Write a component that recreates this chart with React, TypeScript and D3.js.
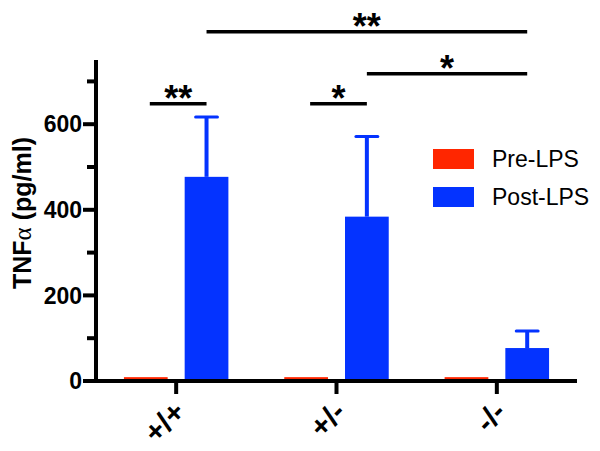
import React from "react";
import * as d3 from "d3";

const categories = ["+/+", "+/-", "-/-"];
const seriesNames = ["Pre-LPS", "Post-LPS"];
const seriesColors = ["#FF2600", "#0433FF"];
const preLPS = [9, 9, 9];
const postLPS = [477, 384, 77];
const postErrUpper = [617, 571, 117];
const majorTicks = [0, 200, 400, 600];
const minorTicks = [100, 300, 500, 700];

// significance brackets: [fromGroup, fromSeries, toGroup, toSeries, level, label]
const brackets: [number, number, number, number, number, string][] = [
  [0, 1, 2, 1, 816, "**"],
  [1, 1, 2, 1, 718, "*"],
  [0, 0, 0, 1, 648, "**"],
  [1, 0, 1, 1, 648, "*"],
];

const W = 600;
const H = 451;
const FONT = "'Liberation Sans', Arial, Helvetica, sans-serif";

export default function App() {
  const x0 = 96;
  const x1 = 577;
  const y0 = 381;

  const xBand = d3.scaleBand<string>().domain(categories).range([x0, x1]).padding(0);
  const xInner = d3
    .scaleBand<string>()
    .domain(seriesNames)
    .range([0, xBand.bandwidth()])
    .paddingInner(0.28)
    .paddingOuter(0.46);
  const y = d3.scaleLinear().domain([0, 750]).range([y0, 60]);

  const series = [preLPS, postLPS];
  const barCenter = (g: number, s: number) =>
    (xBand(categories[g]) as number) + (xInner(seriesNames[s]) as number) + xInner.bandwidth() / 2;

  return (
    <svg
      width={W}
      height={H}
      style={{ position: "absolute", left: 0, top: 0, background: "#fff" }}
      fontFamily={FONT}
    >
      {/* bars */}
      {series.map((vals, s) =>
        vals.map((v, g) => {
          const bx = (xBand(categories[g]) as number) + (xInner(seriesNames[s]) as number);
          return (
            <rect
              key={`b${s}-${g}`}
              x={bx}
              y={y(v)}
              width={xInner.bandwidth()}
              height={y(0) - y(v)}
              fill={seriesColors[s]}
            />
          );
        })
      )}
      {/* error bars */}
      {postLPS.map((v, g) => {
        const cx = barCenter(g, 1);
        const capW = xInner.bandwidth() / 2;
        return (
          <g key={`e${g}`} stroke={seriesColors[1]}>
            <line x1={cx} x2={cx} y1={y(v)} y2={y(postErrUpper[g])} strokeWidth={4} />
            <line
              x1={cx - capW / 2}
              x2={cx + capW / 2}
              y1={y(postErrUpper[g])}
              y2={y(postErrUpper[g])}
              strokeWidth={3}
              strokeLinecap="round"
            />
          </g>
        );
      })}
      {/* y axis */}
      <line x1={x0} x2={x0} y1={y(750)} y2={y0 + 2} stroke="#000" strokeWidth={4} />
      {majorTicks.map((t) => (
        <g key={`mt${t}`}>
          <line x1={x0 - 13} x2={x0} y1={y(t)} y2={y(t)} stroke="#000" strokeWidth={4} />
          <text
            x={x0 - 14}
            y={y(t)}
            dy="0.36em"
            textAnchor="end"
            fontSize={23}
            fontWeight="bold"
          >
            {t}
          </text>
        </g>
      ))}
      {minorTicks.map((t) => (
        <line key={`mi${t}`} x1={x0 - 9} x2={x0} y1={y(t)} y2={y(t)} stroke="#000" strokeWidth={4} />
      ))}
      {/* y label */}
      <text
        transform={`translate(31,213) rotate(-90)`}
        textAnchor="middle"
        fontSize={25}
        fontWeight="bold"
      >
        TNF
        <tspan fontFamily="'Liberation Serif', 'DejaVu Serif', serif" fontWeight="normal">
          α
        </tspan>{" "}
        (pg/ml)
      </text>
      {/* x axis */}
      <line x1={x0 - 2} x2={x1} y1={y0} y2={y0} stroke="#000" strokeWidth={4} />
      {categories.map((c) => {
        const cx = (xBand(c) as number) + xBand.bandwidth() / 2;
        return (
          <g key={`xt${c}`}>
            <line x1={cx} x2={cx} y1={y0} y2={y0 + 13} stroke="#000" strokeWidth={4} />
            <text
              transform={`translate(${cx - 4},${y0 + 18}) rotate(-45)`}
              textAnchor="end"
              dy="0.7em"
              fontSize={30}
              fontWeight="bold"
            >
              {c}
            </text>
          </g>
        );
      })}
      {/* significance */}
      {brackets.map(([g1, s1, g2, s2, lvl, lab], i) => {
        const xa = barCenter(g1, s1) + (s1 === 0 ? 4 : 0);
        const xb = barCenter(g2, s2);
        return (
          <g key={`s${i}`}>
            <line x1={xa} x2={xb} y1={y(lvl)} y2={y(lvl)} stroke="#000" strokeWidth={3.5} />
            <text
              x={(xa + xb) / 2}
              y={y(lvl) + 7}
              textAnchor="middle"
              fontSize={36}
              fontWeight="bold"
            >
              {lab}
            </text>
          </g>
        );
      })}
      {/* legend */}
      {seriesNames.map((n, i) => (
        <g key={`l${n}`} transform={`translate(433,${149 + i * 38})`}>
          <rect width={41} height={20} fill={seriesColors[i]} />
          <text x={59} y={10} dy="0.36em" fontSize={23}>
            {n}
          </text>
        </g>
      ))}
    </svg>
  );
}
